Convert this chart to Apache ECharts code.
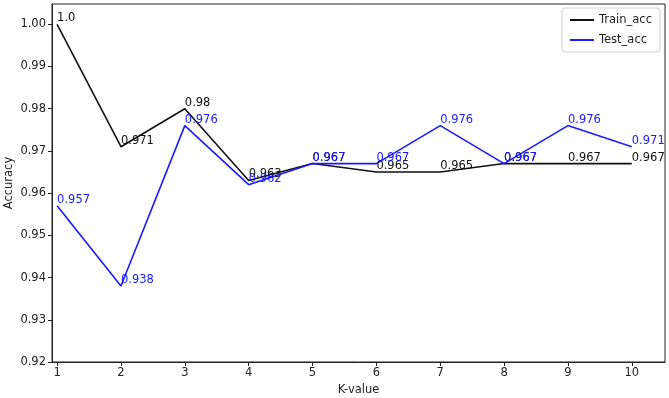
<!DOCTYPE html>
<html>
<head>
<meta charset="utf-8">
<script src="https://cdn.jsdelivr.net/npm/echarts@6/dist/echarts.min.js"></script>
<style>
  html, body { margin: 0; padding: 0; background: #fff; }
  #chart { width: 669px; height: 398px; }
</style>
</head>
<body>
<div id="chart"></div>
<script>
// K值 与 准确率
const kValues = [1, 2, 3, 4, 5, 6, 7, 8, 9, 10];
const trainAcc = [1.0, 0.971, 0.98, 0.963, 0.967, 0.965, 0.965, 0.967, 0.967, 0.967];
const testAcc = [0.957, 0.938, 0.976, 0.962, 0.967, 0.967, 0.976, 0.967, 0.976, 0.971];
const yTicks = [0.92, 0.93, 0.94, 0.95, 0.96, 0.97, 0.98, 0.99, 1.00];

const font = 'DejaVu Sans';
const chart = echarts.init(document.getElementById('chart'));

// 数据点的文字，左下角对齐在点上（类似 plt.text）
const fmt = v => (v === 1 ? '1.0' : String(v));
function makeSeries (name, values, color) {
  return {
    name: name,
    type: 'line',
    data: kValues.map((k, i) => [k, values[i]]),
    symbol: 'circle',
    symbolSize: 0,
    showSymbol: true,
    lineStyle: { color: color, width: 1.6 },
    itemStyle: { color: color },
    label: {
      show: true,
      position: [0, 0],
      align: 'left',
      verticalAlign: 'bottom',
      offset: [0, 5],
      formatter: p => fmt(p.value[1]),
      color: color,
      fontFamily: font,
      fontSize: 11.5
    },
    labelLayout: { hideOverlap: false },
    emphasis: { disabled: true },
    animation: false
  };
}

const option = {
  backgroundColor: '#fff',
  grid: {
    left: 52,
    right: 4,
    top: 4,
    bottom: 36,
    outerBoundsMode: 'none',
    containLabel: false,
    show: true,
    borderColor: '#222',
    borderWidth: 1
  },
  legend: {
    orient: 'vertical',
    right: 9,
    top: 8,
    icon: 'rect',
    itemWidth: 24,
    itemHeight: 2,
    itemGap: 8,
    padding: [6, 8, 6, 8],
    borderColor: '#d0d0d0',
    borderWidth: 1,
    borderRadius: 3,
    textStyle: { fontFamily: font, fontSize: 11.5, color: '#222' },
    data: ['Train_acc', 'Test_acc']
  },
  xAxis: {
    type: 'value',
    min: 0.92,
    max: 10.52,
    name: 'K-value',
    nameLocation: 'middle',
    nameGap: 22,
    nameMoveOverlap: false,
    nameTextStyle: { fontFamily: font, fontSize: 11.5, color: '#222' },
    axisLine: { show: true, onZero: false, lineStyle: { color: '#222' } },
    axisTick: { show: true, length: 4, customValues: kValues, lineStyle: { color: '#222' } },
    axisLabel: { customValues: kValues, fontFamily: font, fontSize: 11.5, color: '#222', margin: 5 },
    splitLine: { show: false }
  },
  yAxis: {
    type: 'value',
    min: 0.92,
    max: 1.0048,
    name: 'Accuracy',
    nameLocation: 'middle',
    nameGap: 37,
    nameMoveOverlap: false,
    nameTextStyle: { fontFamily: font, fontSize: 11.5, color: '#222' },
    axisLine: { show: true, onZero: false, lineStyle: { color: '#222' } },
    axisTick: { show: true, length: 4, customValues: yTicks, lineStyle: { color: '#222' } },
    axisLabel: {
      customValues: yTicks,
      formatter: v => v.toFixed(2),
      fontFamily: font,
      fontSize: 11.5,
      color: '#222',
      margin: 6
    },
    splitLine: { show: false }
  },
  series: [
    makeSeries('Train_acc', trainAcc, '#111111'),
    makeSeries('Test_acc', testAcc, '#1a1aff')
  ]
};

chart.setOption(option);
</script>
</body>
</html>
